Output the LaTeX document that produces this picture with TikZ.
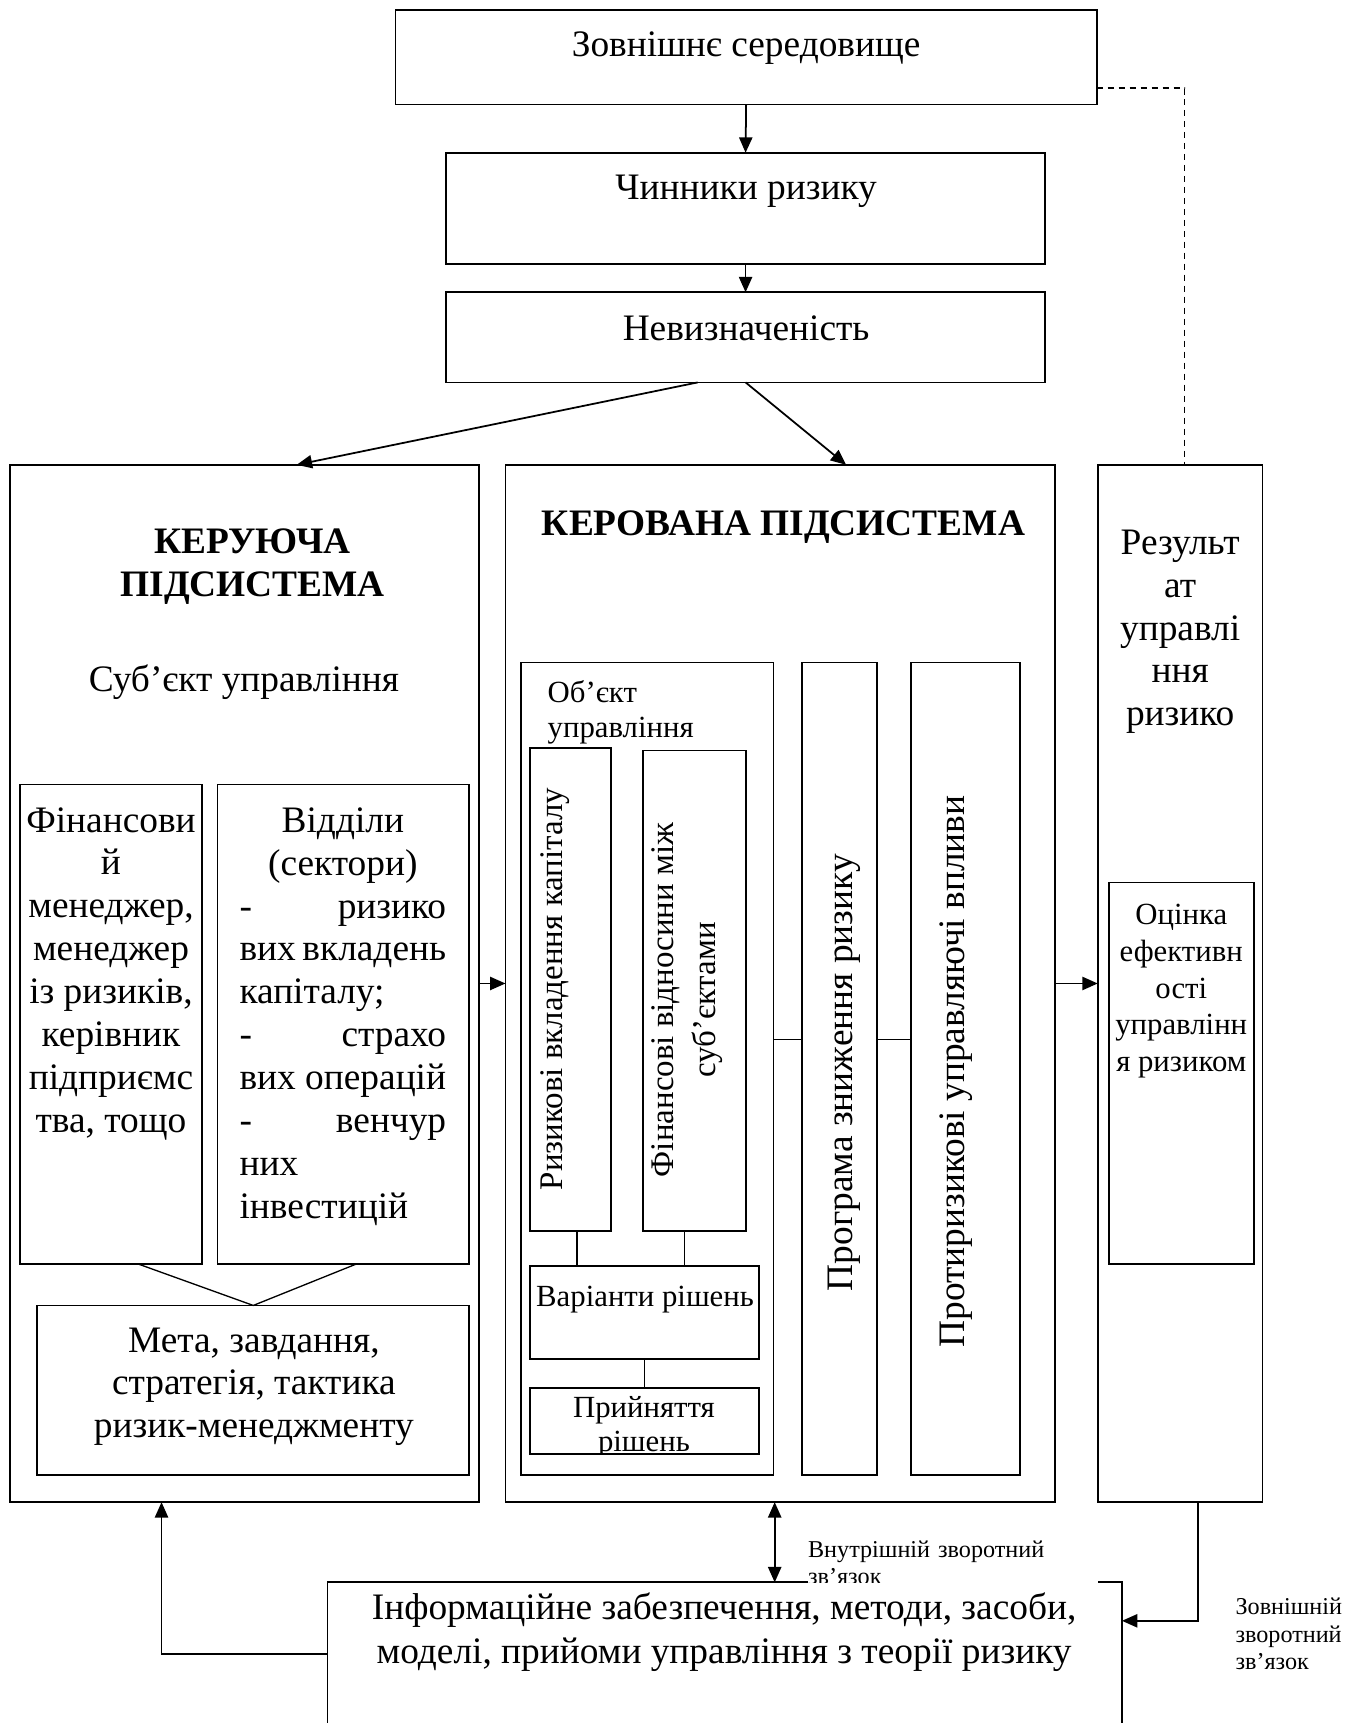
\documentclass[tikz,border=0pt]{standalone}
\usepackage{fontspec}
\setmainfont{Liberation Serif}
\usetikzlibrary{calc,arrows.meta}

\tikzset{
  blk/.style={draw, line width=0.8pt, inner sep=0pt, outer sep=0pt},
  txt/.style={font=\fontsize{17}{19.5}\selectfont, align=center, inner sep=0pt},
  smalltxt/.style={font=\fontsize{14}{16}\selectfont, align=center, inner sep=0pt},
  tinytxt/.style={font=\fontsize{11}{12.5}\selectfont, align=left, inner sep=0pt},
  title/.style={font=\fontsize{17}{19.5}\selectfont\bfseries, align=center, inner sep=0pt},
  rottxt/.style={font=\fontsize{15}{19}\selectfont, align=center, inner sep=0pt, rotate=90},
  bigrot/.style={font=\fontsize{17}{20}\selectfont, align=center, inner sep=0pt, rotate=90},
  arr/.style={-{Triangle[length=7pt,width=6pt]}, line width=0.8pt},
  arrboth/.style={{Triangle[length=7pt,width=6pt]}-{Triangle[length=7pt,width=6pt]}, line width=0.8pt},
  link/.style={line width=0.6pt},
  feedback/.style={line width=0.6pt, dash pattern=on 3pt off 2pt}
}

\newcommand{\fullline}[1]{\hbox to \hsize{#1}}

\begin{document}
\begin{tikzpicture}[x=0.5pt, y=-0.5pt]

\path[use as bounding box, clip] (0,0) rectangle (1236,1568);

% top chain
\node[blk, minimum width=319pt, minimum height=43pt] (env) at (679,52) {};
\node[blk, minimum width=272.5pt, minimum height=50.5pt] (factors) at (678.5,189.5) {};
\node[blk, minimum width=272.5pt, minimum height=41pt] (uncert) at (678.5,307) {};
\node[txt] (envtxt) at (679,44) {Зовнішнє середовище};
\node[txt] (factorstxt) at (679,174) {Чинники ризику};
\node[txt] (uncerttxt) at (679,299) {Невизначеність};

% controlling subsystem
\node[blk, minimum width=213.5pt, minimum height=472pt] (ctrl) at (222.5,895) {};
\node[blk, minimum width=83pt, minimum height=218pt] (fin) at (101,932) {};
\node[blk, minimum width=114.5pt, minimum height=218pt] (depts) at (312.5,932) {};
\node[blk, minimum width=196.5pt, minimum height=77pt] (goals) at (230.5,1265) {};
\node[title] (ctrltitle) at (230,516) {КЕРУЮЧА\\ПІДСИСТЕМА};
\node[txt] (subject) at (222,621) {Суб’єкт управління};
\node[txt] (fintxt) at (101,886) {Фінансови\\й\\менеджер,\\менеджер\\із ризиків,\\керівник\\підприємс\\тва, тощо};
\node[txt, text width=94pt, align=left] (deptstxt) at (312,925) {%
  \fullline{\hfil Відділи\hfil}
  \fullline{\hfil (сектори)\hfil}
  \fullline{-\hfill ризико}
  \fullline{вих\hfill вкладень}
  \fullline{капіталу;\hfil}
  \fullline{-\hfill страхо}
  \fullline{вих\hfill операцій}
  \fullline{-\hfill венчур}
  \fullline{них\hfil}
  \fullline{інвестицій\hfil}};
\node[txt] (goalstxt) at (231,1262) {Мета, завдання,\\стратегія, тактика\\ризик-менеджменту};

% managed subsystem
\node[blk, minimum width=250pt, minimum height=472pt] (managed) at (710,895) {};
\node[blk, minimum width=115pt, minimum height=369.5pt] (object) at (589,972.5) {};
\node[blk, minimum width=37pt, minimum height=219.5pt] (invest) at (519,900.5) {};
\node[blk, minimum width=47pt, minimum height=218.5pt] (relat) at (632,901.5) {};
\node[blk, minimum width=104.5pt, minimum height=42.5pt] (options) at (586.5,1194.5) {};
\node[blk, minimum width=104.5pt, minimum height=30pt] (decision) at (586.5,1293) {};
\node[blk, minimum width=34pt, minimum height=369.5pt] (program) at (764,972.5) {};
\node[blk, minimum width=49.5pt, minimum height=369.5pt] (counter) at (878.5,972.5) {};
\node[title] (mgdtitle) at (713,480) {КЕРОВАНА ПІДСИСТЕМА};
\node[smalltxt, align=left, anchor=north west] (objtxt) at (498,619) {Об’єкт\\управління};
\node[rottxt] (investtxt) at (505,900) {Ризикові вкладення капіталу};
\node[rottxt] (relattxt) at (625,910) {Фінансові відносини між\\суб’єктами};
\node[smalltxt] (optionstxt) at (587,1183) {Варіанти рішень};
\begin{scope}
  \clip (decision.north west) rectangle (decision.south east);
  \node[smalltxt, font=\fontsize{14}{15.5}\selectfont] (decisiontxt) at (586,1299) {Прийняття\\рішень};
\end{scope}
\node[bigrot] (programtxt) at (768,976) {Програма зниження ризику};
\node[bigrot] (countertxt) at (870,975) {Протиризикові управляючі впливи};

% result
\node[blk, minimum width=75pt, minimum height=472pt] (result) at (1074,895) {};
\node[blk, minimum width=66pt, minimum height=173.5pt] (assess) at (1075,976.5) {};
\node[txt] (resulttxt) at (1074,575) {Результ\\ат\\управлі\\ння\\ризико};
\node[smalltxt, font=\fontsize{14}{16.75}\selectfont] (assesstxt) at (1075,902) {Оцінка\\ефективн\\ості\\управлінн\\я ризиком};

% information support
\node[blk, fill=white, minimum width=361.5pt, minimum height=80pt] (info) at (659.5,1520) {};
\node[txt, font=\fontsize{17}{20}\selectfont] (infotxt) at (659,1485) {Інформаційне забезпечення, методи, засоби,\\моделі, прийоми управління з теорії ризику};
\begin{scope}
  \clip (730,1370) rectangle (1005,1440.5);
  \node[tinytxt, fill=white, anchor=north west, text width=132pt, minimum height=40pt] (innertxt) at (735,1382) {Внутрішній зворотний\\зв’язок};
\end{scope}
\node[tinytxt, anchor=west] (outertxt) at (1124,1487) {Зовнішній\\зворотний\\зв’язок};

% connectors
\draw[arr] (env.south) -- (factors.north);
\draw[arr] (factors.south) -- (uncert.north);
\draw[arr] ($(uncert.south)+(-43.5,0)$) -- ($(ctrl.north)+(47.5,0)$);
\draw[arr] (uncert.south) -- ($(managed.north)+(60,0)$);
\draw[feedback] ($(env.south east)+(0,-15)$) -| ($(result.north)+(4,0)$);
\draw[arr] (ctrl.east) -- (managed.west);
\draw[arr] (managed.east) -- (result.west);
\draw[link] ($(fin.south)+(24,0)$) -- (goals.north) -- ($(depts.south)+(12.5,0)$);
\draw[link] ($(invest.south)+(6,0)$) -- ($(invest.south |- options.north)+(6,0)$);
\draw[link] ($(relat.south)+(-9,0)$) -- ($(relat.south |- options.north)+(-9,0)$);
\draw[link] (options.south) -- (decision.north);
\draw[link] ($(object.east)+(0,-26.5)$) -- ($(program.west)+(0,-26.5)$);
\draw[link] ($(program.east)+(0,-26.5)$) -- ($(counter.west)+(0,-26.5)$);
\draw[arrboth] ($(managed.south)+(-5,0)$) -- ($(managed.south |- info.north)+(-5,0)$);
\draw[arr] ($(result.south)+(16,0)$) |- ($(info.north east)+(0,35)$);
\draw[arr] ($(info.north west)+(0,65)$) -| ($(ctrl.south)+(-75.5,0)$);

\end{tikzpicture}
\end{document}
